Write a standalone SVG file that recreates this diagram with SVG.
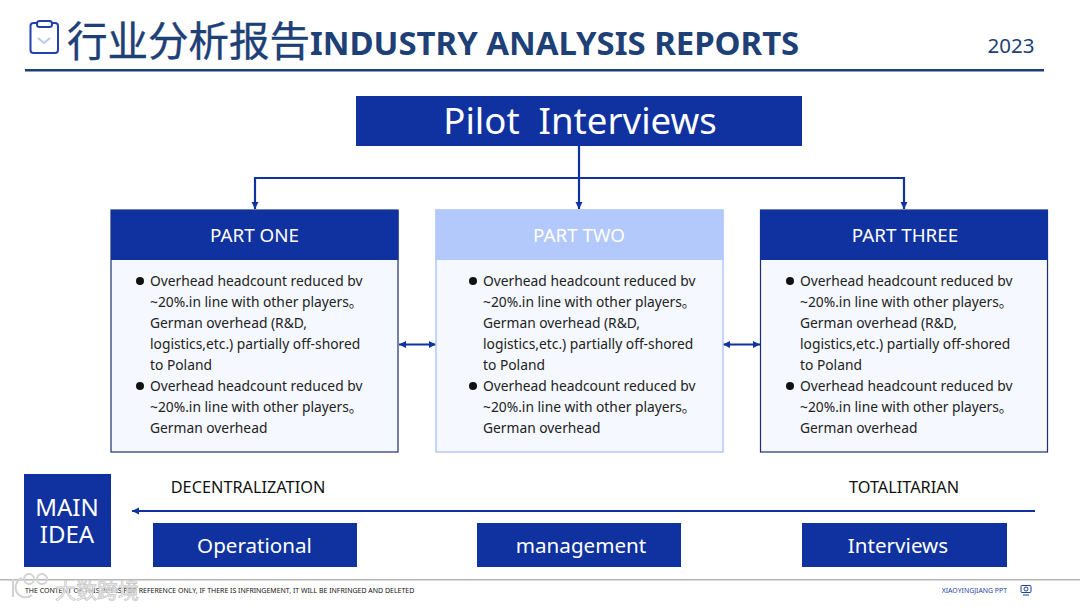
<svg xmlns="http://www.w3.org/2000/svg" width="1080" height="608" viewBox="0 0 1080 608">
<defs>
<marker id="a" markerUnits="userSpaceOnUse" markerWidth="8" markerHeight="8" refX="7" refY="4" orient="auto-start-reverse"><path d="M0 0.500L7 4L0 7.500Z" fill="#0f32a0"/></marker>
</defs>
<style>
text{font-family:"Noto Sans","Noto Sans CJK SC",sans-serif}
.f{fill:#0f32a0}
.w{fill:#fff;text-anchor:middle}
.b{font-size:13.8px;fill:#222}
.l{fill:none;stroke:#0f32a0;stroke-width:2.200}
.box{fill:#f5f8fe;stroke:#1c2f6e;stroke-width:1.200}
.d{fill:#111}
</style>
<rect width="1080" height="608" fill="#fff"/>
<g id="header">
<rect x="30.500" y="23" width="27.500" height="30" rx="3" fill="none" stroke="#2340b0" stroke-width="2"/>
<rect x="37" y="21" width="15" height="6" rx="2.500" fill="#fff" stroke="#2340b0" stroke-width="2"/>
<path d="M38 38l6 5l6-5" fill="none" stroke="#b9c9f0" stroke-width="2"/>
<text x="67" y="56" font-size="40.500" fill="#1d4077" stroke="#1d4077" stroke-width="0.400" style="font-family:'Noto Sans CJK SC',sans-serif">行业分析报告</text>
<text x="310" y="55" font-size="32.900" font-weight="700" fill="#1d4077">INDUSTRY ANALYSIS REPORTS</text>
<text x="1011" y="53" font-size="20.500" fill="#1d4077" text-anchor="middle">2023</text>
<rect x="25" y="69" width="1019" height="2.500" fill="#1d4077"/>
</g>
<g id="connectors">
<path class="l" d="M579 146V178"/>
<path class="l" d="M255 209V178H904V209" marker-start="url(#a)" marker-end="url(#a)"/>
<path class="l" d="M579 178V209" marker-end="url(#a)"/>
<path class="l" style="stroke-width:1.800" d="M399 344.500H436" marker-start="url(#a)" marker-end="url(#a)"/>
<path class="l" style="stroke-width:1.800" d="M723 344.500H760" marker-start="url(#a)" marker-end="url(#a)"/>
<path class="l" d="M1035 511H132" marker-end="url(#a)"/>
</g>
<g id="pilot"><rect x="356" y="96" width="446" height="50" class="f"/><text x="580" y="134" font-size="36.600" class="w" style="white-space:pre">Pilot  Interviews</text></g>
<g id="part-one">
<rect x="111" y="210" width="287" height="242" class="box"/><rect x="111" y="210" width="287.500" height="50" class="f"/>
<text x="254.500" y="241.500" font-size="18.800" class="w">PART ONE</text>
<circle cx="140" cy="281" r="4" class="d"/><circle cx="140" cy="386" r="4" class="d"/>
<text class="b"><tspan x="150" y="286">Overhead headcount reduced bv</tspan><tspan x="150" y="307">~20%.in line with other players。</tspan><tspan x="150" y="328">German overhead (R&amp;D,</tspan><tspan x="150" y="349">logistics,etc.) partially off-shored</tspan><tspan x="150" y="370">to Poland</tspan><tspan x="150" y="391">Overhead headcount reduced bv</tspan><tspan x="150" y="412">~20%.in line with other players。</tspan><tspan x="150" y="433">German overhead</tspan></text>
</g>
<g id="part-two">
<rect x="436" y="210" width="287" height="242" fill="#f5f8fe" stroke="#b3c8fb" stroke-width="1.500"/><rect x="435.500" y="209.500" width="288" height="50.500" fill="#b3c8fb"/>
<text x="579" y="241.500" font-size="18.800" class="w">PART TWO</text>
<circle cx="473" cy="281" r="4" class="d"/><circle cx="473" cy="386" r="4" class="d"/>
<text class="b"><tspan x="483" y="286">Overhead headcount reduced bv</tspan><tspan x="483" y="307">~20%.in line with other players。</tspan><tspan x="483" y="328">German overhead (R&amp;D,</tspan><tspan x="483" y="349">logistics,etc.) partially off-shored</tspan><tspan x="483" y="370">to Poland</tspan><tspan x="483" y="391">Overhead headcount reduced bv</tspan><tspan x="483" y="412">~20%.in line with other players。</tspan><tspan x="483" y="433">German overhead</tspan></text>
</g>
<g id="part-three">
<rect x="760.500" y="210" width="287" height="242" class="box"/><rect x="760" y="210" width="288" height="50" class="f"/>
<text x="905" y="241.500" font-size="18.800" class="w">PART THREE</text>
<circle cx="790" cy="281" r="4" class="d"/><circle cx="790" cy="386" r="4" class="d"/>
<text class="b"><tspan x="800" y="286">Overhead headcount reduced bv</tspan><tspan x="800" y="307">~20%.in line with other players。</tspan><tspan x="800" y="328">German overhead (R&amp;D,</tspan><tspan x="800" y="349">logistics,etc.) partially off-shored</tspan><tspan x="800" y="370">to Poland</tspan><tspan x="800" y="391">Overhead headcount reduced bv</tspan><tspan x="800" y="412">~20%.in line with other players。</tspan><tspan x="800" y="433">German overhead</tspan></text>
</g>
<g id="main-idea"><rect x="24" y="474" width="87" height="93" class="f"/><text x="67" y="516" font-size="24" class="w">MAIN</text><text x="67" y="543" font-size="24" class="w">IDEA</text></g>
<text x="248" y="493" font-size="16.300" fill="#111" text-anchor="middle">DECENTRALIZATION</text>
<text x="904" y="493" font-size="16.300" fill="#111" text-anchor="middle">TOTALITARIAN</text>
<g id="operational"><rect x="153" y="523" width="204" height="44" class="f"/><text x="254.500" y="552.500" font-size="20.600" class="w">Operational</text></g>
<g id="management"><rect x="477" y="523" width="204" height="44" class="f"/><text x="581" y="552.500" font-size="20.600" class="w">management</text></g>
<g id="interviews"><rect x="802" y="523" width="205" height="44" class="f"/><text x="898" y="552.500" font-size="20.600" class="w">Interviews</text></g>
<g id="footer">
<rect x="0" y="579" width="1080" height="1.500" fill="#b5b5b5"/>
<text x="25" y="592.500" font-size="6.980" fill="#111">THE CONTENT OF THIS PPT IS FOR REFERENCE ONLY, IF THERE IS INFRINGEMENT, IT WILL BE INFRINGED AND DELETED</text>
<text x="1007" y="592.500" font-size="6.900" fill="#1f3f9c" text-anchor="end">XIAOYINGJIANG PPT</text>
<g fill="none" stroke="#1f3f9c" stroke-width="1"><rect x="1021" y="585.500" width="10" height="7" rx="1"/><circle cx="1026" cy="589" r="2"/><path d="M1023 595h6"/></g>
</g>
<g id="watermark" fill="none" stroke="#d2d2d2" stroke-width="2">
<path d="M13 579V597M22 578a10 10 0 1 0 10 17"/><circle cx="29" cy="579" r="5"/><circle cx="42" cy="579" r="5"/>
<text x="55" y="598" font-size="21" fill="#fff" fill-opacity="0.800" stroke="#c8c8c8" stroke-width="0.800" style="font-family:'Noto Sans CJK SC',sans-serif">大数跨境</text>
</g>
</svg>
